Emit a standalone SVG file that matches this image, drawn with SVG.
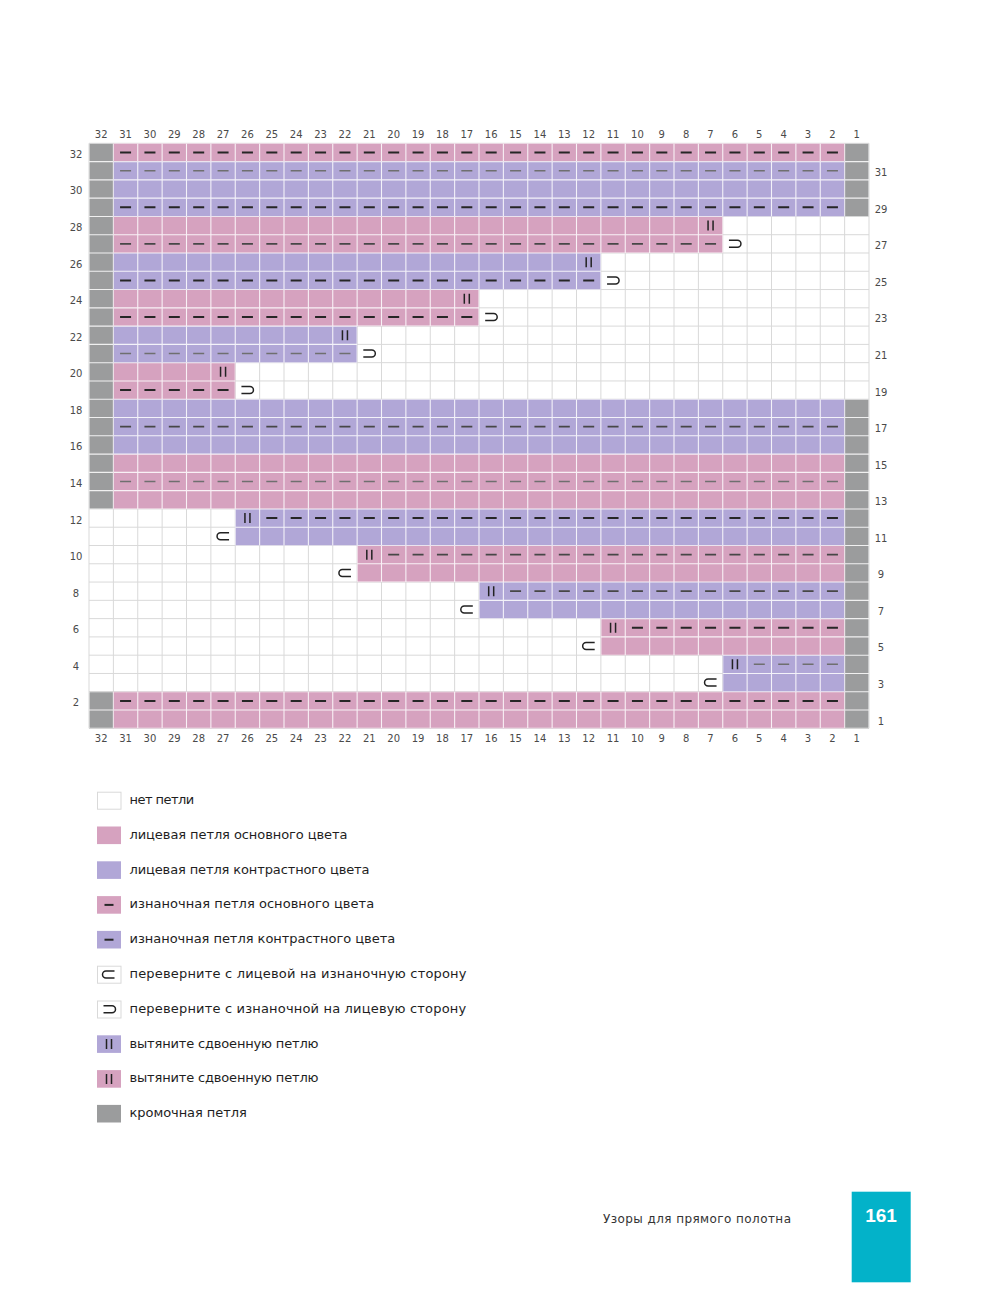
<svg xmlns="http://www.w3.org/2000/svg" xmlns:xlink="http://www.w3.org/1999/xlink" width="997" height="1307" viewBox="0 0 997 1307">
<style>
.num{font-family:"DejaVu Sans","Liberation Sans",sans-serif;font-size:10px;fill:#4a4a4a;text-anchor:middle}
.leg{font-family:"DejaVu Sans","Liberation Sans",sans-serif;font-size:13px;fill:#1e1e1e}
.foot{font-family:"DejaVu Sans","Liberation Sans",sans-serif;font-size:12px;fill:#333}
.pg{font-family:"Liberation Sans","DejaVu Sans",sans-serif;font-size:19px;font-weight:bold;fill:#fff;text-anchor:middle}
.gl{fill:none;stroke:#d9d9d9;stroke-width:1}
.wl{fill:none;stroke:#fff;stroke-opacity:0.85;stroke-width:1.1}
.dk{stroke:#262626;stroke-width:2;stroke-dasharray:11 13.375;fill:none}
.md{stroke:#474747;stroke-width:1.8;stroke-dasharray:11 13.375;fill:none}
.lt{stroke:#6f6f6f;stroke-width:1.5;stroke-dasharray:11 13.375;fill:none}
.sym{fill:none;stroke:#222;stroke-width:1.5}
.pk{fill:#d6a2bf}
.li{fill:#b1a7d7}
.gy{fill:#9b9c9d}
.wh{fill:#fff;stroke:#d9d9d9;stroke-width:1}
.ld{stroke:#262626;stroke-width:2}
</style>
<defs>
<g id="grayR">
<rect x="0" y="0" width="24.375" height="365.625"/>
<rect x="0" y="548.4375" width="24.375" height="36.5625"/>
<rect x="755.625" y="0" width="24.375" height="73.125"/>
<rect x="755.625" y="255.9375" width="24.375" height="329.0625"/>
</g>
<g id="pinkR">
<rect x="24.375" y="0" width="731.25" height="18.281"/>
<rect x="24.375" y="73.125" width="609.375" height="36.5625"/>
<rect x="24.375" y="146.25" width="365.625" height="36.5625"/>
<rect x="24.375" y="219.375" width="121.875" height="36.5625"/>
<rect x="24.375" y="310.781" width="731.25" height="54.844"/>
<rect x="268.125" y="402.1875" width="487.5" height="36.5625"/>
<rect x="511.875" y="475.3125" width="243.75" height="36.5625"/>
<rect x="24.375" y="548.4375" width="731.25" height="36.5625"/>
</g>
<g id="lilacR">
<rect x="24.375" y="18.281" width="731.25" height="54.844"/>
<rect x="24.375" y="109.6875" width="487.5" height="36.5625"/>
<rect x="24.375" y="182.8125" width="243.75" height="36.5625"/>
<rect x="24.375" y="255.9375" width="731.25" height="54.844"/>
<rect x="146.25" y="365.625" width="609.375" height="36.5625"/>
<rect x="390" y="438.75" width="365.625" height="36.5625"/>
<rect x="633.75" y="511.875" width="121.875" height="36.5625"/>
</g>
<path id="gridP" d="M0 0V585M24.375 0V585M48.75 0V585M73.125 0V585M97.5 0V585M121.875 0V585M146.25 0V585M170.625 0V585M195 0V585M219.375 0V585M243.75 0V585M268.125 0V585M292.5 0V585M316.875 0V585M341.25 0V585M365.625 0V585M390 0V585M414.375 0V585M438.75 0V585M463.125 0V585M487.5 0V585M511.875 0V585M536.25 0V585M560.625 0V585M585 0V585M609.375 0V585M633.75 0V585M658.125 0V585M682.5 0V585M706.875 0V585M731.25 0V585M755.625 0V585M780 0V585M0 0H780M0 18.281H780M0 36.563H780M0 54.844H780M0 73.125H780M0 91.406H780M0 109.688H780M0 127.969H780M0 146.25H780M0 164.531H780M0 182.813H780M0 201.094H780M0 219.375H780M0 237.656H780M0 255.938H780M0 274.219H780M0 292.5H780M0 310.781H780M0 329.063H780M0 347.344H780M0 365.625H780M0 383.906H780M0 402.188H780M0 420.469H780M0 438.75H780M0 457.031H780M0 475.313H780M0 493.594H780M0 511.875H780M0 530.156H780M0 548.438H780M0 566.719H780M0 585H780"/>
<mask id="cm" maskUnits="userSpaceOnUse" x="-5" y="-5" width="790" height="595">
<use href="#grayR" fill="#fff"/><use href="#pinkR" fill="#fff"/><use href="#lilacR" fill="#fff"/>
</mask>
<path id="tl" d="M6 -3.5H-2.5A3.5 3.5 0 0 0 -2.5 3.5H6"/>
<path id="tr" d="M-6 -3.5H2.5A3.5 3.5 0 0 1 2.5 3.5H-6"/>
<path id="dbl" d="M-2.5 -5V5M2.5 -5V5"/>
</defs>
<rect width="997" height="1307" fill="#fff"/>

<g id="chart" transform="translate(89,143.3)">
<use href="#gridP" class="gl"/>
<use href="#grayR" fill="#9b9c9d"/>
<use href="#pinkR" fill="#d6a2bf"/>
<use href="#lilacR" fill="#b1a7d7"/>
<use href="#gridP" class="wl" mask="url(#cm)"/>
<g id="purls">
<path class="dk" d="M31.0625 9.14H748.94"/>
<path class="lt" d="M31.0625 27.42H748.94"/>
<path class="dk" d="M31.0625 63.98H748.94"/>
<path class="md" d="M31.0625 100.55H627.06"/>
<path class="dk" d="M31.0625 137.11H505.19"/>
<path class="dk" d="M31.0625 173.67H383.31"/>
<path class="lt" d="M31.0625 210.23H261.44"/>
<path class="dk" d="M31.0625 246.8H139.56"/>
<path class="md" d="M31.0625 283.36H748.94"/>
<path class="lt" d="M31.0625 338.2H748.94"/>
<path class="dk" d="M177.31 374.77H748.94"/>
<path class="md" d="M299.19 411.33H748.94"/>
<path class="md" d="M421.06 447.89H748.94"/>
<path class="dk" d="M542.94 484.45H748.94"/>
<path class="lt" d="M664.81 521.02H748.94"/>
<path class="dk" d="M31.0625 557.58H748.94"/>
</g>
<g id="symbols" class="sym">
<use href="#dbl" x="621.56" y="82.27"/>
<use href="#dbl" x="499.69" y="118.83"/>
<use href="#dbl" x="377.81" y="155.39"/>
<use href="#dbl" x="255.94" y="191.95"/>
<use href="#dbl" x="134.06" y="228.52"/>
<use href="#dbl" x="158.44" y="374.77"/>
<use href="#dbl" x="280.31" y="411.33"/>
<use href="#dbl" x="402.19" y="447.89"/>
<use href="#dbl" x="524.06" y="484.45"/>
<use href="#dbl" x="645.94" y="521.02"/>
<use href="#tr" x="645.94" y="100.55"/>
<use href="#tr" x="524.06" y="137.11"/>
<use href="#tr" x="402.19" y="173.67"/>
<use href="#tr" x="280.31" y="210.23"/>
<use href="#tr" x="158.44" y="246.8"/>
<use href="#tl" x="134.06" y="393.05"/>
<use href="#tl" x="255.94" y="429.61"/>
<use href="#tl" x="377.81" y="466.17"/>
<use href="#tl" x="499.69" y="502.73"/>
<use href="#tl" x="621.56" y="539.3"/>
</g>
</g>

<g id="col-labels-top" class="num">
<text x="101.19" y="138.3">32</text><text x="125.56" y="138.3">31</text><text x="149.94" y="138.3">30</text><text x="174.31" y="138.3">29</text><text x="198.69" y="138.3">28</text><text x="223.06" y="138.3">27</text><text x="247.44" y="138.3">26</text><text x="271.81" y="138.3">25</text><text x="296.19" y="138.3">24</text><text x="320.56" y="138.3">23</text><text x="344.94" y="138.3">22</text><text x="369.31" y="138.3">21</text><text x="393.69" y="138.3">20</text><text x="418.06" y="138.3">19</text><text x="442.44" y="138.3">18</text><text x="466.81" y="138.3">17</text><text x="491.19" y="138.3">16</text><text x="515.56" y="138.3">15</text><text x="539.94" y="138.3">14</text><text x="564.31" y="138.3">13</text><text x="588.69" y="138.3">12</text><text x="613.06" y="138.3">11</text><text x="637.44" y="138.3">10</text><text x="661.81" y="138.3">9</text><text x="686.19" y="138.3">8</text><text x="710.56" y="138.3">7</text><text x="734.94" y="138.3">6</text><text x="759.31" y="138.3">5</text><text x="783.69" y="138.3">4</text><text x="808.06" y="138.3">3</text><text x="832.44" y="138.3">2</text><text x="856.81" y="138.3">1</text>
</g>
<g id="col-labels-bottom" class="num">
<text x="101.19" y="742.3">32</text><text x="125.56" y="742.3">31</text><text x="149.94" y="742.3">30</text><text x="174.31" y="742.3">29</text><text x="198.69" y="742.3">28</text><text x="223.06" y="742.3">27</text><text x="247.44" y="742.3">26</text><text x="271.81" y="742.3">25</text><text x="296.19" y="742.3">24</text><text x="320.56" y="742.3">23</text><text x="344.94" y="742.3">22</text><text x="369.31" y="742.3">21</text><text x="393.69" y="742.3">20</text><text x="418.06" y="742.3">19</text><text x="442.44" y="742.3">18</text><text x="466.81" y="742.3">17</text><text x="491.19" y="742.3">16</text><text x="515.56" y="742.3">15</text><text x="539.94" y="742.3">14</text><text x="564.31" y="742.3">13</text><text x="588.69" y="742.3">12</text><text x="613.06" y="742.3">11</text><text x="637.44" y="742.3">10</text><text x="661.81" y="742.3">9</text><text x="686.19" y="742.3">8</text><text x="710.56" y="742.3">7</text><text x="734.94" y="742.3">6</text><text x="759.31" y="742.3">5</text><text x="783.69" y="742.3">4</text><text x="808.06" y="742.3">3</text><text x="832.44" y="742.3">2</text><text x="856.81" y="742.3">1</text>
</g>
<g id="row-labels-left" class="num">
<text x="76" y="157.8">32</text><text x="76" y="194.4">30</text><text x="76" y="231">28</text><text x="76" y="267.5">26</text><text x="76" y="304.1">24</text><text x="76" y="340.7">22</text><text x="76" y="377.2">20</text><text x="76" y="413.8">18</text><text x="76" y="450.3">16</text><text x="76" y="486.9">14</text><text x="76" y="523.5">12</text><text x="76" y="560">10</text><text x="76" y="596.6">8</text><text x="76" y="633.2">6</text><text x="76" y="669.7">4</text><text x="76" y="706.3">2</text>
</g>
<g id="row-labels-right" class="num">
<text x="881" y="176.1">31</text><text x="881" y="212.7">29</text><text x="881" y="249.2">27</text><text x="881" y="285.8">25</text><text x="881" y="322.4">23</text><text x="881" y="358.9">21</text><text x="881" y="395.5">19</text><text x="881" y="432.1">17</text><text x="881" y="468.6">15</text><text x="881" y="505.2">13</text><text x="881" y="541.7">11</text><text x="881" y="578.3">9</text><text x="881" y="614.9">7</text><text x="881" y="651.4">5</text><text x="881" y="688">3</text><text x="881" y="724.6">1</text>
</g>

<g id="legend">
<g id="leg-none"><rect class="wh" x="97.5" y="792.2" width="23.5" height="17"/><text class="leg" x="129.5" y="804" textLength="64.7">нет петли</text></g>
<g id="leg-knit-main"><rect class="pk" x="97" y="826.5" width="24" height="17.6"/><text class="leg" x="129.5" y="838.8" textLength="218">лицевая петля основного цвета</text></g>
<g id="leg-knit-contrast"><rect class="li" x="97" y="861.3" width="24" height="17.6"/><text class="leg" x="129.5" y="873.6" textLength="240">лицевая петля контрастного цвета</text></g>
<g id="leg-purl-main"><rect class="pk" x="97" y="896.1" width="24" height="17.6"/><line class="ld" x1="104.5" y1="904.9" x2="113.5" y2="904.9"/><text class="leg" x="129.5" y="908.4" textLength="244.7">изнаночная петля основного цвета</text></g>
<g id="leg-purl-contrast"><rect class="li" x="97" y="930.9" width="24" height="17.6"/><line class="ld" x1="104.5" y1="939.7" x2="113.5" y2="939.7"/><text class="leg" x="129.5" y="943.2" textLength="265.7">изнаночная петля контрастного цвета</text></g>
<g id="leg-turn-rs"><rect class="wh" x="97.5" y="966.2" width="23.5" height="17"/><use class="sym" href="#tl" x="108.5" y="974.5"/><text class="leg" x="129.5" y="978" textLength="337">переверните с лицевой на изнаночную сторону</text></g>
<g id="leg-turn-ws"><rect class="wh" x="97.5" y="1001" width="23.5" height="17"/><use class="sym" href="#tr" x="109.5" y="1009.3"/><text class="leg" x="129.5" y="1012.8" textLength="336.7">переверните с изнаночной на лицевую сторону</text></g>
<g id="leg-pull-contrast"><rect class="li" x="97" y="1035.3" width="24" height="17.6"/><use class="sym" href="#dbl" x="109" y="1044.1"/><text class="leg" x="129.5" y="1047.6" textLength="189">вытяните сдвоенную петлю</text></g>
<g id="leg-pull-main"><rect class="pk" x="97" y="1070.1" width="24" height="17.6"/><use class="sym" href="#dbl" x="109" y="1078.9"/><text class="leg" x="129.5" y="1082.4" textLength="189">вытяните сдвоенную петлю</text></g>
<g id="leg-edge"><rect class="gy" x="97" y="1104.9" width="24" height="17.6"/><text class="leg" x="129.5" y="1117.2" textLength="117.3">кромочная петля</text></g>
</g>

<g id="footer">
<text class="foot" x="603" y="1222.8" textLength="188">Узоры для прямого полотна</text>
<rect x="851.7" y="1191.7" width="59" height="90.6" fill="#03b2c9"/>
<text class="pg" x="881" y="1221.8">161</text>
</g>
</svg>
